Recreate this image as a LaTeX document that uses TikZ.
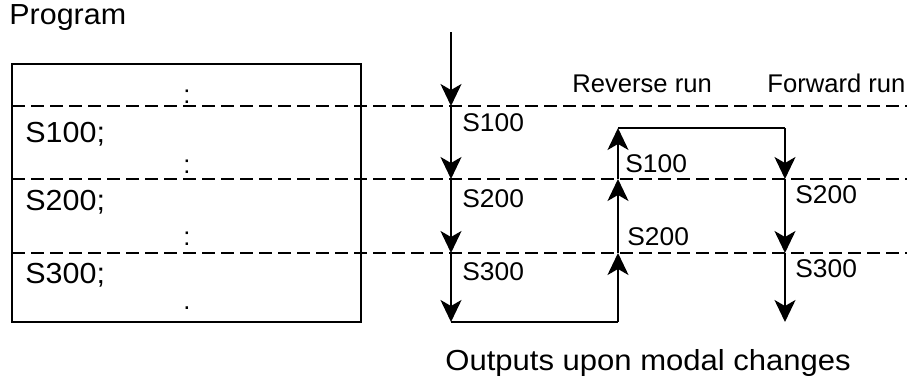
\documentclass[tikz,border=0pt]{standalone}
\usepackage{fontspec}
\setmainfont{Liberation Sans}
\usepackage{graphicx}
\usetikzlibrary{arrows.meta}

% text is a little wide in the reference
\newcommand{\wtxt}[2][1.03]{\scalebox{#1}[1]{#2}}

\begin{document}
\begin{tikzpicture}[x=0.5pt, y=-0.5pt,
  flow/.style={line width=1pt, -{Stealth[length=11pt, width=10.5pt, inset=3pt]}},
  plain/.style={line width=1pt},
  sep/.style={line width=0.8pt, dash pattern=on 6.5pt off 3pt},
  lbl/.style={anchor=base west, inner sep=0pt, font=\fontsize{12.8}{15}\selectfont},
  big/.style={lbl, font=\fontsize{14.5}{17}\selectfont}]

  \useasboundingbox (0,0) rectangle (907,380);

  % Program block
  \node[big] (prog) at (9,25) {\wtxt[1.05]{Program}};
  \draw[plain] (12,64) rectangle (361,322);
  \foreach \y in {106,179,253}
    \draw[sep] (12,\y) -- (907,\y);
  \foreach \y [count=\i] in {104,173,245}
    \node[lbl, anchor=base] (dots\i) at (187,\y) {:};
  \node[lbl, anchor=base] (dots4) at (187,309) {.};
  \node[big] (blk1) at (25,142) {\wtxt[1.05]{S100;}};
  \node[big] (blk2) at (25,210) {\wtxt[1.05]{S200;}};
  \node[big] (blk3) at (25,283) {\wtxt[1.05]{S300;}};

  % Execution points
  \coordinate (m0) at (451,32);
  \coordinate (m1) at (451,106);
  \coordinate (m2) at (451,179);
  \coordinate (m3) at (451,253);
  \coordinate (m4) at (451,322);
  \coordinate (r1) at (618,128);
  \coordinate (r2) at (618,179);
  \coordinate (r3) at (618,253);
  \coordinate (r4) at (618,322);
  \coordinate (f1) at (785,128);
  \coordinate (f2) at (785,179);
  \coordinate (f3) at (785,253);
  \coordinate (f4) at (785,322);

  \foreach \a/\b in {m0/m1, m1/m2, m2/m3, m3/m4,
                     r4/r3, r3/r2, r2/r1,
                     f1/f2, f2/f3, f3/f4}
    \draw[flow] (\a) -- (\b);
  \draw[plain] (m4) -- (r4);
  \draw[plain] (r1) -- (f1);

  % Outputs
  \node[lbl] (out1) at (462,131) {\wtxt{S100}};
  \node[lbl] (out2) at (462,207) {\wtxt{S200}};
  \node[lbl] (out3) at (462,280) {\wtxt{S300}};
  \node[lbl] (rev1) at (625,172) {\wtxt{S100}};
  \node[lbl] (rev2) at (627,245) {\wtxt{S200}};
  \node[lbl] (fwd2) at (795,203) {\wtxt{S200}};
  \node[lbl] (fwd3) at (795,278) {\wtxt{S300}};

  \node[lbl] (revrun) at (572,92) {\wtxt[1]{Reverse run}};
  \node[lbl] (fwdrun) at (767,92) {\wtxt[1]{Forward run}};
  \node[big] (modal) at (445,370) {\wtxt[1.07]{Outputs upon modal changes}};

\end{tikzpicture}
\end{document}
